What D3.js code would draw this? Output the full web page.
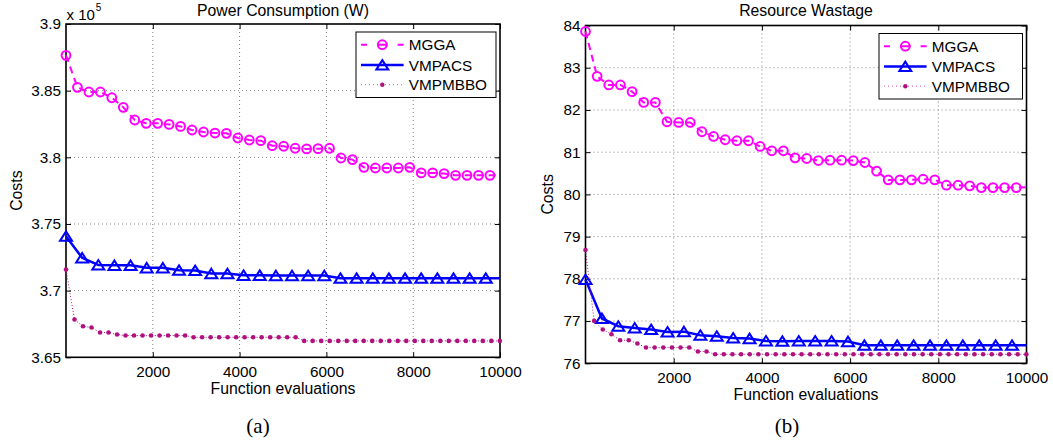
<!DOCTYPE html>
<html><head><meta charset="utf-8">
<script src="https://cdn.jsdelivr.net/npm/d3@7"></script>
<style>body{margin:0;background:#fff}svg{display:block}</style>
</head><body>
<svg id="c" width="1053" height="446"></svg>
<script>
// ---------------- data ----------------
const seriesNames = ["MGGA", "VMPACS", "VMPMBBO"];
const xTicks = [2000, 4000, 6000, 8000, 10000];
const xTickLabels = ["2000", "4000", "6000", "8000", "10000"];

const mggaEvals = [0,264,528,792,1056,1320,1584,1848,2112,2376,2640,2904,3168,3432,3696,3960,4224,4488,4752,5016,5280,5544,5808,6072,6336,6600,6864,7128,7392,7656,7920,8184,8448,8712,8976,9240,9504,9768,10000];
const acsEvals = [0,372,744,1116,1488,1860,2232,2604,2976,3348,3720,4092,4464,4836,5208,5580,5952,6324,6696,7068,7440,7812,8184,8556,8928,9300,9672,10000];
const bboEvals = [0,196,392,588,784,980,1176,1372,1568,1764,1960,2156,2352,2548,2744,2940,3136,3332,3528,3724,3920,4116,4312,4508,4704,4900,5096,5292,5488,5684,5880,6076,6272,6468,6664,6860,7056,7252,7448,7644,7840,8036,8232,8428,8624,8820,9016,9212,9408,9604,9800,9996];

// (a) Power Consumption (W), in units of 1e5
const powerYTicks = [3.65, 3.7, 3.75, 3.8, 3.85, 3.9];
const powerYTickLabels = ["3.65", "3.7", "3.75", "3.8", "3.85", "3.9"];
const mggaPower = [3.8765,3.8525,3.849,3.849,3.8447,3.8375,3.828,3.8255,3.8255,3.8247,3.8232,3.8205,3.819,3.8182,3.818,3.8145,3.813,3.8125,3.8087,3.8083,3.8068,3.8063,3.8065,3.8068,3.7995,3.7983,3.7925,3.792,3.792,3.792,3.7925,3.7883,3.7883,3.7878,3.7865,3.7865,3.7865,3.7865,3.7865];
const acsPower = [3.7408,3.7246,3.7193,3.719,3.719,3.7171,3.7171,3.7153,3.7151,3.7128,3.7128,3.7115,3.7115,3.7113,3.7113,3.7113,3.7113,3.7093,3.7093,3.7093,3.7093,3.7093,3.7093,3.7093,3.7093,3.7093,3.7093,3.7093];
const bboPower = [3.7158,3.6783,3.6733,3.6723,3.6686,3.6686,3.6671,3.6663,3.6663,3.6663,3.6663,3.6663,3.6663,3.6663,3.6663,3.665,3.665,3.665,3.665,3.665,3.665,3.665,3.665,3.665,3.665,3.665,3.665,3.665,3.6623,3.6623,3.6623,3.6623,3.6623,3.6623,3.6623,3.6623,3.6623,3.6623,3.6623,3.6623,3.6623,3.6623,3.6623,3.6623,3.6623,3.6623,3.6623,3.6623,3.6623,3.6623,3.6623,3.6623];

// (b) Resource Wastage
const wasteYTicks = [76, 77, 78, 79, 80, 81, 82, 83, 84];
const wasteYTickLabels = ["76", "77", "78", "79", "80", "81", "82", "83", "84"];
const mggaWaste = [83.858,82.796,82.592,82.592,82.433,82.179,82.179,81.721,81.704,81.704,81.484,81.372,81.294,81.27,81.27,81.135,81.033,81.033,80.866,80.85,80.802,80.81,80.81,80.8,80.755,80.551,80.344,80.344,80.344,80.36,80.344,80.218,80.218,80.202,80.161,80.161,80.161,80.161,80.17];
const acsWaste = [77.987,77.061,76.878,76.838,76.8,76.743,76.75,76.665,76.641,76.601,76.586,76.529,76.522,76.529,76.529,76.529,76.515,76.427,76.427,76.427,76.427,76.427,76.427,76.427,76.427,76.427,76.427,76.427];
const bboWaste = [78.683,77.004,76.8,76.689,76.546,76.546,76.468,76.373,76.373,76.373,76.373,76.373,76.373,76.278,76.278,76.214,76.214,76.214,76.214,76.214,76.214,76.214,76.214,76.214,76.214,76.214,76.214,76.214,76.214,76.214,76.214,76.214,76.214,76.214,76.214,76.214,76.214,76.214,76.214,76.214,76.214,76.214,76.214,76.214,76.214,76.214,76.214,76.214,76.214,76.214,76.214,76.214];

// ---------------- drawing ----------------
const SANS = "'Liberation Sans', Arial, Helvetica, sans-serif";
const SERIF = "'Liberation Serif', 'Times New Roman', serif";
const C_MGGA = "#ff00ff", C_ACS = "#0000ff", C_BBO = "#b0117f";
const svg = d3.select("#c");

function zip(xs, ys) { return xs.map((v, i) => ({x: v, y: ys[i]})); }
const triPath = "M0,-4.9L6,4.6L-6,4.6Z";

function panel(cfg) {
  const g = svg.append("g");
  const x = d3.scaleLinear().domain([0, 10000]).range([cfg.x0, cfg.x1]);
  const y = d3.scaleLinear().domain([cfg.yTicks[0], cfg.yTicks[cfg.yTicks.length - 1]]).range([cfg.y1, cfg.y0]);

  // grid
  g.append("g").selectAll("line").data(xTicks.filter(t => t < 10000)).join("line")
    .attr("x1", d => x(d)).attr("x2", d => x(d)).attr("y1", cfg.y0).attr("y2", cfg.y1)
    .attr("stroke", "#808080").attr("stroke-width", 1).attr("stroke-dasharray", "1,3");
  g.append("g").selectAll("line").data(cfg.yTicks.slice(1, -1)).join("line")
    .attr("y1", d => y(d)).attr("y2", d => y(d)).attr("x1", cfg.x0).attr("x2", cfg.x1)
    .attr("stroke", "#808080").attr("stroke-width", 1).attr("stroke-dasharray", "1,3");

  // axes (inward ticks, mirrored)
  const fmtX = d => xTickLabels[xTicks.indexOf(d)];
  const fmtY = d => cfg.yTickLabels[cfg.yTicks.indexOf(d)];
  const ax = [
    g.append("g").attr("transform", `translate(0,${cfg.y1})`)
      .call(d3.axisBottom(x).tickValues(xTicks).tickFormat(fmtX).tickSize(-5).tickSizeOuter(0).tickPadding(8.8)),
    g.append("g").attr("transform", `translate(0,${cfg.y0})`)
      .call(d3.axisTop(x).tickValues(xTicks).tickFormat("").tickSize(-5).tickSizeOuter(0)),
    g.append("g").attr("transform", `translate(${cfg.x0},0)`)
      .call(d3.axisLeft(y).tickValues(cfg.yTicks).tickFormat(fmtY).tickSize(-5).tickSizeOuter(0).tickPadding(5)),
    g.append("g").attr("transform", `translate(${cfg.x1},0)`)
      .call(d3.axisRight(y).tickValues(cfg.yTicks).tickFormat("").tickSize(-5).tickSizeOuter(0))
  ];
  ax.forEach(a => {
    a.select(".domain").remove();
    a.selectAll(".tick line").attr("stroke", "#000").attr("stroke-width", 1);
    a.selectAll("text").attr("font-family", SANS).attr("font-size", 15.3).attr("fill", "#000");
  });

  // frame
  g.append("rect").attr("x", cfg.x0).attr("y", cfg.y0)
    .attr("width", cfg.x1 - cfg.x0).attr("height", cfg.y1 - cfg.y0)
    .attr("fill", "none").attr("stroke", "#000").attr("stroke-width", 1.6);

  const line = d3.line().x(d => x(d.x)).y(d => y(d.y));
  const mg = zip(mggaEvals, cfg.mgga), ac = zip(acsEvals, cfg.acs), bb = zip(bboEvals, cfg.bbo);

  // MGGA
  g.append("path").datum(mg).attr("d", line).attr("fill", "none")
    .attr("stroke", C_MGGA).attr("stroke-width", 2).attr("stroke-dasharray", "7,5");
  g.append("g").selectAll("circle").data(mg.filter(d => d.x < 10000)).join("circle")
    .attr("cx", d => x(d.x)).attr("cy", d => y(d.y)).attr("r", 4.4)
    .attr("fill", "none").attr("stroke", C_MGGA).attr("stroke-width", 2);
  // VMPACS
  g.append("path").datum(ac).attr("d", line).attr("fill", "none")
    .attr("stroke", C_ACS).attr("stroke-width", 2.5);
  g.append("g").selectAll("path").data(ac.filter(d => d.x < 10000)).join("path")
    .attr("d", triPath).attr("transform", d => `translate(${x(d.x)},${y(d.y)})`)
    .attr("fill", "none").attr("stroke", C_ACS).attr("stroke-width", 2).attr("stroke-linejoin", "miter");
  // VMPMBBO
  g.append("path").datum(bb).attr("d", line).attr("fill", "none")
    .attr("stroke", C_BBO).attr("stroke-width", 1).attr("stroke-dasharray", "1,2");
  g.append("g").selectAll("circle").data(bb).join("circle")
    .attr("cx", d => x(d.x)).attr("cy", d => y(d.y)).attr("r", 2.3).attr("fill", C_BBO);

  // titles
  const cx = (cfg.x0 + cfg.x1) / 2;
  g.append("text").attr("x", cx).attr("y", 15.5).attr("text-anchor", "middle")
    .attr("font-family", SANS).attr("font-size", 15.8).text(cfg.title);
  g.append("text").attr("x", cx).attr("y", cfg.y1 + 36.2).attr("text-anchor", "middle")
    .attr("font-family", SANS).attr("font-size", 15.8).text("Function evaluations");
  g.append("text").attr("transform", `translate(${cfg.ylabX},${(cfg.y0 + cfg.y1) / 2}) rotate(-90)`)
    .attr("text-anchor", "middle").attr("font-family", SANS).attr("font-size", 15.8).text("Costs");
  g.append("text").attr("x", cfg.capX).attr("y", 433).attr("text-anchor", "middle")
    .attr("font-family", SERIF).attr("font-size", 21).text(cfg.caption);
  if (cfg.exponent) {
    const t = g.append("text").attr("x", cfg.x0 + 0.5).attr("y", 19.5)
      .attr("font-family", SANS).attr("font-size", 15);
    t.append("tspan").text("x 10");
    t.append("tspan").attr("font-size", 10).attr("dy", -8.5).attr("dx", 1).text(cfg.exponent);
  }

  // legend
  const lx = cfg.x1 - 4 - cfg.legW, ly = cfg.y0 + 8;
  const lg = g.append("g").attr("transform", `translate(${lx},${ly})`);
  lg.append("rect").attr("width", cfg.legW).attr("height", 65.5)
    .attr("fill", "#fff").attr("stroke", "#000").attr("stroke-width", 1);
  const rows = [12.7, 33, 52.7];
  seriesNames.forEach((name, i) => {
    const ry = rows[i];
    const s = lg.append("g");
    if (i === 0) {
      s.append("line").attr("x1", 5).attr("x2", 47.6).attr("y1", ry).attr("y2", ry)
        .attr("stroke", C_MGGA).attr("stroke-width", 2).attr("stroke-dasharray", "6,10,10.6,10,6");
      s.append("circle").attr("cx", 26.3).attr("cy", ry).attr("r", 4.4)
        .attr("fill", "none").attr("stroke", C_MGGA).attr("stroke-width", 2);
    } else if (i === 1) {
      s.append("line").attr("x1", 5).attr("x2", 47.6).attr("y1", ry).attr("y2", ry)
        .attr("stroke", C_ACS).attr("stroke-width", 2.5);
      s.append("path").attr("d", triPath).attr("transform", `translate(26.3,${ry})`)
        .attr("fill", "none").attr("stroke", C_ACS).attr("stroke-width", 2);
    } else {
      s.append("line").attr("x1", 5).attr("x2", 47.6).attr("y1", ry).attr("y2", ry)
        .attr("stroke", C_BBO).attr("stroke-width", 1).attr("stroke-opacity", 0.7).attr("stroke-dasharray", "1,3");
      s.append("circle").attr("cx", 26.3).attr("cy", ry).attr("r", 2.2).attr("fill", C_BBO);
    }
    s.append("text").attr("x", 52.8).attr("y", ry).attr("dy", "0.36em")
      .attr("font-family", SANS).attr("font-size", 15.3).text(name);
  });
}

panel({
  x0: 66, x1: 500, y0: 24, y1: 357.3,
  yTicks: powerYTicks, yTickLabels: powerYTickLabels,
  mgga: mggaPower, acs: acsPower, bbo: bboPower,
  title: "Power Consumption (W)", caption: "(a)", capX: 258, ylabX: 22,
  exponent: "5", legW: 140
});
panel({
  x0: 585.5, x1: 1026.5, y0: 25.5, y1: 363.3,
  yTicks: wasteYTicks, yTickLabels: wasteYTickLabels,
  mgga: mggaWaste, acs: acsWaste, bbo: bboWaste,
  title: "Resource Wastage", caption: "(b)", capX: 787, ylabX: 553.3,
  exponent: null, legW: 143.5
});
</script>
</body></html>
